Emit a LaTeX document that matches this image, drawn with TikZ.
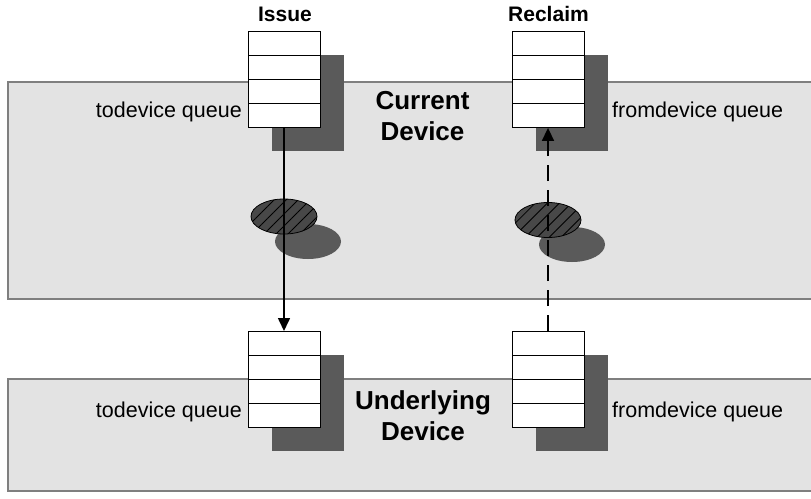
\documentclass[tikz,border=0pt]{standalone}
\usepackage{fontspec}
\setmainfont{Liberation Sans}
\usepackage{tikz}
\usetikzlibrary{
  arrows.meta,
  shapes.geometric,
  patterns.meta,
}
\definecolor{devfill}{HTML}{E3E3E3}
\definecolor{devedge}{HTML}{7F7F7F}
\definecolor{shadegray}{HTML}{5A5A5A}
\definecolor{blobgray}{HTML}{484848}

\begin{document}
\begin{tikzpicture}[
    x=1pt, y=-1pt,
    device/.style={draw=devedge, fill=devfill, line width=1.3pt},
    cell/.style={rectangle, draw=black, fill=white, line width=0.9pt,
      minimum width=72pt, minimum height=24pt, inner sep=0pt},
    qshade/.style={rectangle, fill=shadegray, minimum width=72pt,
      minimum height=96pt, inner sep=0pt},
    blob/.style={ellipse, draw=black, fill=blobgray, line width=0.8pt,
      minimum width=66pt, minimum height=35pt, inner sep=0pt,
      postaction={pattern={Lines[angle=45, distance=8.5pt, line width=0.8pt]}}},
    bshade/.style={ellipse, fill=shadegray, minimum width=66pt,
      minimum height=35pt, inner sep=0pt},
    qlabel/.style={font=\fontsize{21.5}{25}\selectfont, inner sep=0pt},
    head/.style={font=\bfseries\fontsize{21}{25}\selectfont, inner sep=0pt},
    title/.style={font=\bfseries\fontsize{26}{31}\selectfont, align=center, inner sep=0pt},
    flow/.style={line width=1.6pt, -{Triangle[length=13pt, width=12pt]}},
  ]
  \clip (0,0) rectangle (811,498);

  % the two devices
  \path[device] (8,82) rectangle (830,299);
  \path[device] (8,379) rectangle (830,491);

  \node[title] (cur) at (422.5,116) {Current\\Device};
  \node[title] (und) at (423,416) {Underlying\\Device};

  % queues, each with its shadow
  \foreach \q/\x/\y in {ti/284/31, fr/548/31, tu/284/331, fu/548/331} {
    \node[qshade, anchor=north west] (\q s) at (\x-12,\y+24) {};
    \foreach \k in {1,...,4}
      \node[cell, anchor=north] (\q\k) at (\x,\y+24*\k-24) {};
  }

  \node[head, anchor=base] (issue) at (285,21.7) {Issue};
  \node[head, anchor=base] (reclaim) at (548.5,21.7) {Reclaim};

  \node[qlabel, anchor=base east] (tiq) at (242,117) {todevice queue};
  \node[qlabel, anchor=base west] (frq) at (612,117) {fromdevice queue};
  \node[qlabel, anchor=base east] (tuq) at (242,417) {todevice queue};
  \node[qlabel, anchor=base west] (fuq) at (612,417) {fromdevice queue};

  % requests on the way
  \node[bshade] (bls) at (308,241.5) {};
  \node[blob] (bl) at (284,216.5) {};
  \node[bshade] (brs) at (572,244.5) {};
  \node[blob] (br) at (548,220) {};

  \draw[flow] (ti4.south) -- (tu1.north);
  \draw[flow, dash pattern=on 16pt off 9pt] (fu1.north) -- (fr4.south);
\end{tikzpicture}
\end{document}
